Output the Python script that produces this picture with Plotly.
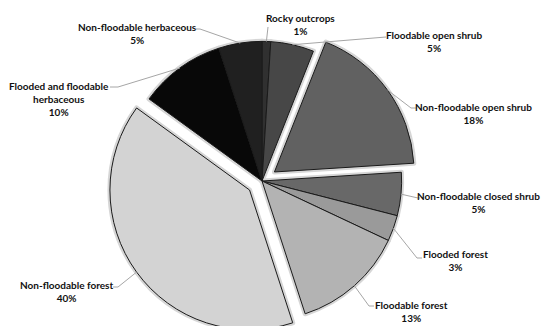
import math
import plotly.graph_objects as go

labels = ["Rocky outcrops", "Floodable open shrub", "Non-floodable open shrub",
          "Non-floodable closed shrub", "Flooded forest", "Floodable forest",
          "Non-floodable forest", "Flooded and floodable herbaceous", "Non-floodable herbaceous"]
values = [1, 5, 18, 5, 3, 13, 40, 10, 5]
colors = ["#303030", "#474747", "#616161", "#686868", "#9a9a9a", "#b3b3b3",
          "#d3d3d3", "#080808", "#202020"]
pulls = [0, 0, 0.11, 0, 0, 0, 0.11, 0, 0]
label_text = ["Rocky outcrops<br>1%", "Floodable open shrub<br>5%",
              "Non-floodable open shrub<br>18%", "Non-floodable closed shrub<br>5%",
              "Flooded forest<br>3%", "Floodable forest<br>13%",
              "Non-floodable forest<br>40%", "Flooded and floodable<br>herbaceous<br>10%",
              "Non-floodable herbaceous<br>5%"]

W, H = 542, 336
# pie domain (pixels)
dom_x = (107, 417)
dom_y_top, dom_y_bot = 26, 336
cx = (dom_x[0] + dom_x[1]) / 2
cy = (dom_y_top + dom_y_bot) / 2
r = min(dom_x[1] - dom_x[0], dom_y_bot - dom_y_top) / 2 / (1 + max(pulls))

domain = dict(x=[dom_x[0] / W, dom_x[1] / W], y=[1 - dom_y_bot / H, 1 - dom_y_top / H])

fig = go.Figure()
# soft shadow halo
fig.add_trace(go.Pie(labels=labels, values=values, sort=False, direction="clockwise",
                     rotation=0, pull=pulls, domain=domain, textinfo="none",
                     marker=dict(colors=colors, line=dict(color="#d6d6d6", width=5)),
                     showlegend=False, hoverinfo="skip"))
fig.add_trace(go.Pie(labels=labels, values=values, sort=False, direction="clockwise",
                     rotation=0, pull=pulls, domain=domain, textinfo="none",
                     marker=dict(colors=colors, line=dict(color="#1a1a1a", width=1)),
                     showlegend=False))

# label placement (layout): text centre x, text centre y, leader elbow, leader end
label_pos = [
    (300, 25, (268, 27), (268, 27)),
    (434, 41, (386, 37), (386, 37)),
    (473, 113, (411, 108), (417, 108)),
    (478, 202, (418, 198), (420, 198)),
    (455, 260, (417, 258), (422, 258)),
    (411, 311, (369, 306), (374, 306)),
    (66, 291, (118, 287), (113, 287)),
    (59, 99, (118, 87), (110, 87)),
    (137, 34, (200, 29), (196, 29)),
]

total = sum(values)
cum = 0
shapes = []
annotations = []
for i, v in enumerate(values):
    mid = (cum + v / 2) / total * 2 * math.pi
    cum += v
    rr = r * (1 + pulls[i])
    sx = cx + rr * math.sin(mid)
    sy = cy - rr * math.cos(mid)
    tx, ty, (ex, ey), (fx, fy) = label_pos[i]
    path = f"M {sx/W} {1-sy/H} L {ex/W} {1-ey/H} L {fx/W} {1-fy/H}"
    shapes.append(dict(type="path", xref="paper", yref="paper", path=path,
                       line=dict(color="#a6a6a6", width=1)))
    annotations.append(dict(x=tx / W, y=1 - ty / H, xref="paper", yref="paper",
                            text=f"<b>{label_text[i]}</b>", showarrow=False,
                            xanchor="center", yanchor="middle", align="center",
                            font=dict(family="Lato", size=10, color="#111111")))

fig.update_layout(width=W, height=H, margin=dict(l=0, r=0, t=0, b=0),
                  paper_bgcolor="white", plot_bgcolor="white",
                  shapes=shapes, annotations=annotations)
fig.write_html("out.html")
